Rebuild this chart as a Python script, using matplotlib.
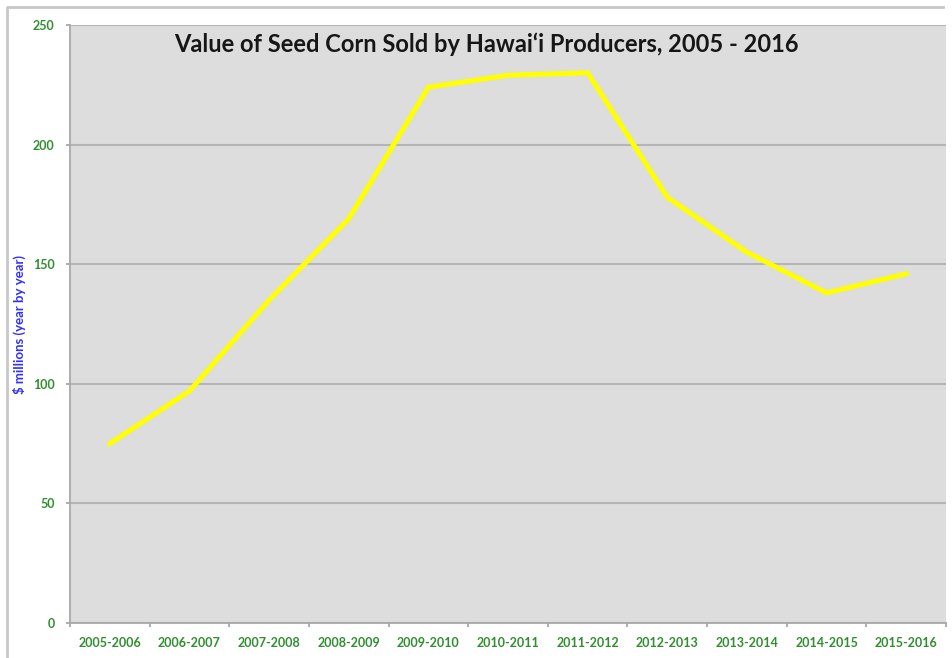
#!/usr/bin/env python3
# -*- coding: utf-8 -*-
"""
Value of seed corn sold by Hawai'i producers, 2005 - 2016
Excel-style line chart on grey plot area
"""

import matplotlib.pyplot as plt
import numpy as np
from matplotlib.lines import Line2D
from matplotlib.ticker import MultipleLocator

# Data
seasons = ['2005-2006', '2006-2007', '2007-2008', '2008-2009', '2009-2010', '2010-2011',
           '2011-2012', '2012-2013', '2013-2014', '2014-2015', '2015-2016']
value_millions = [75, 97, 135, 169, 224, 229, 230, 178, 155, 138, 146]
y_ticks = [0, 50, 100, 150, 200, 250]

W, H = 953, 658
fig = plt.figure(figsize=(W / 100, H / 100), dpi=100, facecolor='white')
ax = fig.add_axes([70 / W, 1 - 623 / H, (946 - 70) / W, (623 - 25) / H])
ax.set_facecolor('#dddddd')

x = np.arange(len(seasons))
ax.plot(x, value_millions, color='#ffff00', linewidth=3.6, solid_joinstyle='miter', zorder=3)

# Axes
ax.set_xlim(-0.5, len(seasons) - 0.5)
ax.set_ylim(0, 250)
ax.set_yticks(y_ticks)
ax.set_yticklabels([str(v) for v in y_ticks])
ax.set_xticks(x)
ax.set_xticklabels(seasons)
ax.xaxis.set_minor_locator(MultipleLocator(1, offset=0.5))

ax.grid(True, axis='y', color='#b5b5b5', linewidth=1.5, zorder=1)
ax.set_axisbelow(True)

for lab in ax.get_xticklabels() + ax.get_yticklabels():
    lab.set_fontfamily('Lato')
    lab.set_fontweight('bold')
    lab.set_fontsize(9)
    lab.set_color('#2f8f2f')

ax.tick_params(axis='y', length=3, width=1.3, color='#a8a8a8', pad=8)
ax.tick_params(axis='x', which='major', length=0, pad=10)
ax.tick_params(axis='x', which='minor', length=3, width=1.3, color='#a8a8a8')

for side in ['top', 'right']:
    ax.spines[side].set_visible(False)
for side in ['left', 'bottom']:
    ax.spines[side].set_color('#a8a8a8')
    ax.spines[side].set_linewidth(1.3)

ax.set_ylabel('$ millions (year by year)', fontsize=9.5, color='#3030ff',
              family='Lato', weight='bold', labelpad=5)

# Title sits inside the plot area, slightly left of centre
fig.text(486.5 / W, 1 - 33 / H, 'Value of Seed Corn Sold by Hawai\u2018i Producers, 2005 - 2016',
         ha='center', va='top', fontsize=17, family='Lato', weight='bold',
         color='#161616')

# Outer chart frame (only left and top edges are visible)
frame = Line2D([7 / W, 7 / W, 943 / W], [0, 1 - 7 / H, 1 - 7 / H],
               transform=fig.transFigure, color='#c8c8c8', linewidth=2)
fig.add_artist(frame)

plt.savefig('out.png', dpi=100, facecolor='white')
